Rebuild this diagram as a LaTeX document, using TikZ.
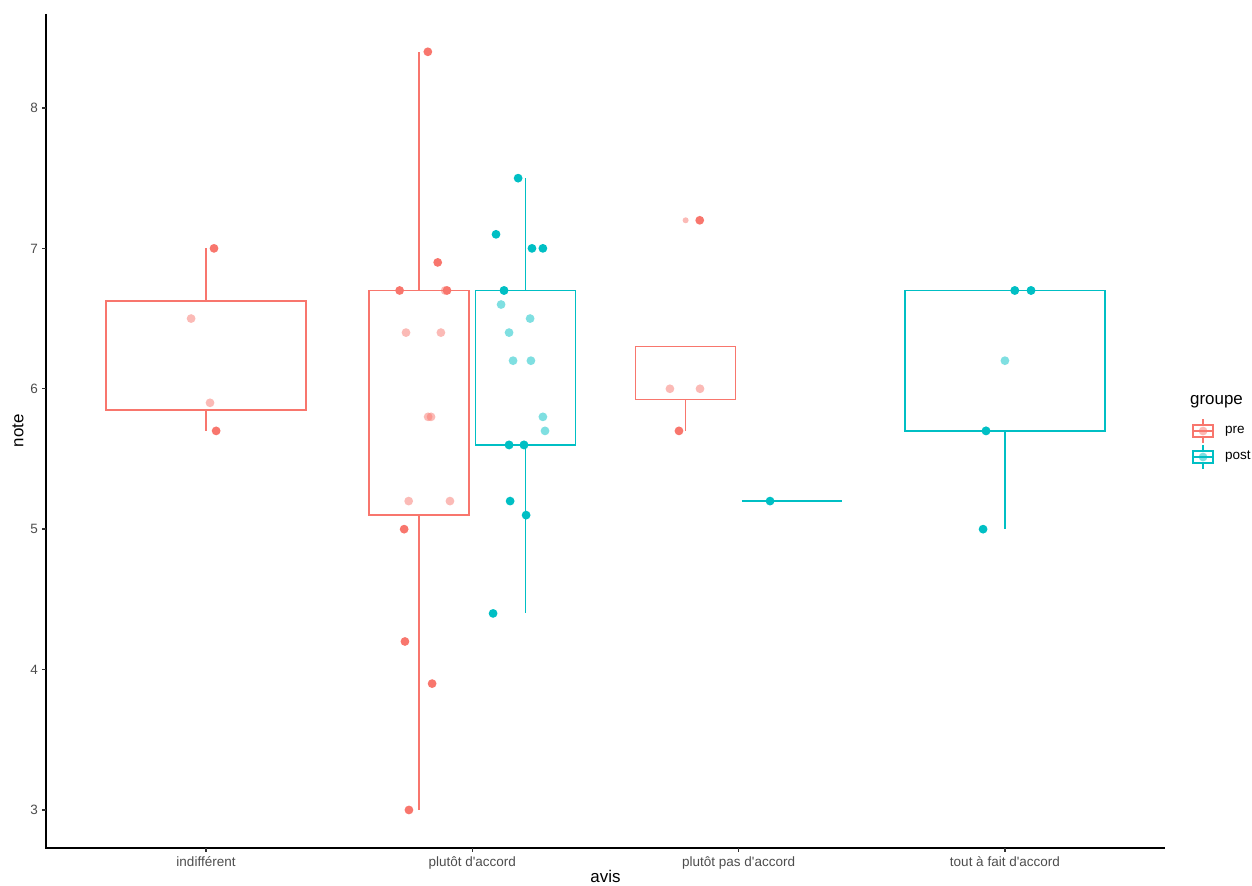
\documentclass[tikz,border=0pt]{standalone}
\usepackage{fontspec}
\setmainfont{Liberation Sans}[Ligatures=TeXOff]
\usetikzlibrary{positioning}

\definecolor{preCol}{HTML}{F8766D}
\definecolor{postCol}{HTML}{00BFC4}
\definecolor{tickGrey}{HTML}{4D4D4D}
\definecolor{markGrey}{HTML}{333333}

\tikzstyle{axisLine} = [draw=black, line width=1.6pt]
\tikzstyle{tickMark} = [draw=markGrey, line width=1.4pt]
\tikzstyle{tickLabel} = [font=\fontsize{13.5}{16}\selectfont, text=tickGrey, inner sep=0pt]
\tikzstyle{axisTitle} = [font=\fontsize{16.9}{20}\selectfont, inner sep=0pt]
\tikzstyle{legText} = [font=\fontsize{13.5}{16}\selectfont, inner sep=0pt]
\tikzstyle{preBox} = [draw=preCol, line width=1.5pt]
\tikzstyle{postBox} = [draw=postCol, line width=1.5pt]
\tikzstyle{preDot} = [fill=preCol]
\tikzstyle{postDot} = [fill=postCol]
\tikzstyle{preFade} = [fill=preCol, fill opacity=0.5]
\tikzstyle{postFade} = [fill=postCol, fill opacity=0.5]
\tikzstyle{keyBox} = [rectangle, minimum width=20pt, minimum height=12pt, inner sep=0pt]

\begin{document}
\begin{tikzpicture}[x=266.3pt, y=140.4pt]

   \useasboundingbox (0.2264,2.4587) rectangle (4.9278,8.769);

   %% Boxes and whiskers

   % indifferent
   \draw[preBox] (0.625,5.85) rectangle (1.375,6.625);
   \draw[preBox] (1,6.625) -- (1,7.0);
   \draw[preBox] (1,5.85) -- (1,5.7);

   % plutot d'accord
   \draw[preBox] (1.6125,5.1) rectangle (1.9875,6.7);
   \draw[preBox] (1.8,6.7) -- (1.8,8.4);
   \draw[preBox] (1.8,5.1) -- (1.8,3.0);

   \draw[postBox] (2.0125,5.6) rectangle (2.3875,6.7);
   \draw[postBox] (2.2,6.7) -- (2.2,7.5);
   \draw[postBox] (2.2,5.6) -- (2.2,4.4);

   % plutot pas d'accord
   \draw[preBox] (2.6125,5.925) rectangle (2.9875,6.3);
   \draw[preBox] (2.8,5.925) -- (2.8,5.7);
   \draw[postBox] (3.0125,5.2) -- (3.3875,5.2);

   % tout a fait d'accord
   \draw[postBox] (3.625,5.7) rectangle (4.375,6.7);
   \draw[postBox] (4,5.7) -- (4,5.0);

   %% Points

   \foreach \px/\py in {1.030/7.0, 1.038/5.7, 1.833/8.4, 1.870/6.9, 1.727/6.7,
                        1.905/6.7, 1.744/5.0, 1.747/4.2, 1.849/3.9, 1.762/3.0,
                        2.854/7.2, 2.776/5.7}
      \fill[preDot] (\px,\py) circle (4.4pt);

   \foreach \px/\py in {2.172/7.5, 2.089/7.1, 2.224/7.0, 2.265/7.0, 2.119/6.7,
                        2.138/5.6, 2.194/5.6, 2.142/5.2, 2.202/5.1, 2.078/4.4,
                        3.118/5.2, 4.037/6.7, 4.098/6.7, 3.929/5.7, 3.918/5.0}
      \fill[postDot] (\px,\py) circle (4.4pt);

   \foreach \px/\py in {0.944/6.5, 1.015/5.9, 1.898/6.7, 1.751/6.4, 1.882/6.4,
                        1.834/5.8, 1.845/5.8, 1.761/5.2, 1.916/5.2,
                        2.742/6.0, 2.855/6.0}
      \fill[preFade] (\px,\py) circle (4.4pt);
   \fill[preFade] (2.801,7.2) circle (3pt);

   \foreach \px/\py in {2.119/6.7, 2.108/6.6, 2.217/6.5, 2.138/6.4, 2.153/6.2,
                        2.220/6.2, 2.265/5.8, 2.273/5.7, 2.138/5.6, 2.194/5.6,
                        4.000/6.2, 4.037/6.7, 4.098/6.7, 3.929/5.7}
      \fill[postFade] (\px,\py) circle (4.4pt);

   %% Axes

   \path[axisLine] (0.4,8.67) -- (0.4,2.73) -- (4.6,2.73);

   \foreach \v in {3,...,8}
      \draw[tickMark] (0.4,\v) -- ++(-4.2pt,0)
         node[tickLabel, left=3.4pt] (yTick\v) {\v};

   \foreach \c/\lab in {1/indifférent, 2/plutôt d'accord,
                        3/plutôt pas d'accord, 4/tout à fait d'accord}
      \draw[tickMark] (\c,2.73) -- ++(0,-4.2pt)
         node[tickLabel, below=3.4pt] (xTick\c) {\lab};

   \node[axisTitle, anchor=base] (avis) at (2.5,2.480) {avis};
   \node[axisTitle, rotate=90] (note) at (0.294,5.7) {note};

   %% Legend

   \node[axisTitle, anchor=west] (groupe) at (4.695,5.906) {groupe};

   \node[keyBox, preBox] (keyPre) at (4.744,5.699) {};
   \draw[preBox] (keyPre.north) -- ++(0,5.5pt);
   \draw[preBox] (keyPre.south) -- ++(0,-5.5pt);
   \draw[preBox] (keyPre.west) -- (keyPre.east);
   \fill[preFade] (keyPre.center) circle (4.4pt);
   \node[legText, right=11pt of keyPre] (labPre) {pre};

   \node[keyBox, postBox] (keyPost) at (4.744,5.514) {};
   \draw[postBox] (keyPost.north) -- ++(0,5.5pt);
   \draw[postBox] (keyPost.south) -- ++(0,-5.5pt);
   \draw[postBox] (keyPost.west) -- (keyPost.east);
   \fill[postFade] (keyPost.center) circle (4.4pt);
   \node[legText, right=11pt of keyPost] (labPost) {post};

\end{tikzpicture}
\end{document}
